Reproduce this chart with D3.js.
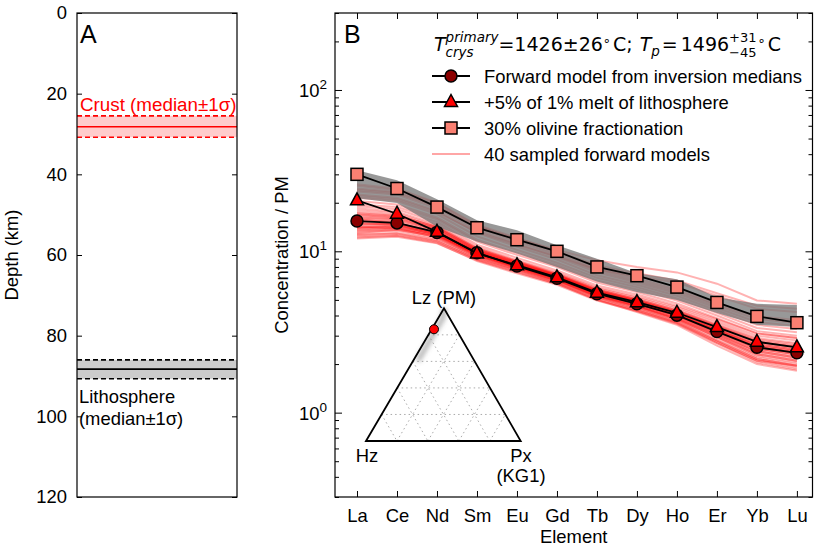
<!DOCTYPE html>
<html>
<head>
<meta charset="utf-8">
<script src="https://cdn.jsdelivr.net/npm/d3@7"></script>
<style>
  body { margin: 0; background: #fff; }
  svg { font-family: "Liberation Sans", Arial, sans-serif; }
</style>
</head>
<body>
<svg id="chart" width="814" height="548"></svg>
<script>
// ---- data ----
const elements = ['La', 'Ce', 'Nd', 'Sm', 'Eu', 'Gd', 'Tb', 'Dy', 'Ho', 'Er', 'Yb', 'Lu'];

const medianModel  = [15.4, 15.0, 13.1, 9.8, 8.1, 6.8, 5.46, 4.73, 4.02, 3.18, 2.54, 2.35];
const lithMeltModel = [20.7, 17.1, 13.2, 9.7, 8.2, 6.9, 5.54, 4.84, 4.16, 3.39, 2.75, 2.54];
const olivineModel = [30.0, 24.5, 18.8, 14.0, 11.8, 10.0, 8.0, 7.06, 6.0, 4.82, 3.95, 3.61];

// grey envelope behind the models
const bandHigh = [31.8, 27.6, 21.0, 15.6, 13.5, 10.9, 9.0, 7.3, 6.7, 5.2, 4.73, 4.65];
const bandLow  = [21.3, 19.9, 14.2, 11.5, 9.7, 8.0, 6.5, 5.6, 5.0, 4.15, 3.5, 3.4];

// 40 sampled forward models
const sampledModels = [
  [12.0, 12.3, 11.2, 8.8, 7.4, 6.3, 5.0, 4.2, 3.5, 2.6, 2.0, 1.82],
  [12.4, 12.6, 11.5, 9.0, 7.6, 6.4, 5.1, 4.3, 3.6, 2.7, 2.1, 1.9],
  [12.8, 13.0, 11.8, 9.1, 7.7, 6.5, 5.2, 4.4, 3.7, 2.8, 2.15, 1.95],
  [13.2, 13.4, 12.0, 9.3, 7.8, 6.6, 5.25, 4.5, 3.75, 2.9, 2.2, 2.0],
  [13.6, 13.7, 12.3, 9.4, 7.9, 6.6, 5.3, 4.55, 3.8, 2.95, 2.25, 2.05],
  [14.0, 14.1, 12.5, 9.5, 8.0, 6.7, 5.35, 4.6, 3.85, 3.0, 2.3, 2.1],
  [14.4, 14.4, 12.7, 9.6, 8.0, 6.75, 5.4, 4.65, 3.9, 3.05, 2.35, 2.15],
  [14.8, 14.7, 12.9, 9.7, 8.1, 6.8, 5.45, 4.7, 3.95, 3.1, 2.4, 2.2],
  [15.2, 15.0, 13.1, 9.8, 8.15, 6.85, 5.5, 4.75, 4.0, 3.15, 2.45, 2.25],
  [15.6, 15.3, 13.3, 9.9, 8.2, 6.9, 5.55, 4.8, 4.05, 3.2, 2.5, 2.3],
  [16.0, 15.6, 13.5, 10.0, 8.3, 7.0, 5.6, 4.85, 4.1, 3.25, 2.55, 2.35],
  [16.5, 16.0, 13.7, 10.1, 8.4, 7.05, 5.65, 4.9, 4.15, 3.3, 2.6, 2.4],
  [17.0, 16.4, 13.9, 10.2, 8.5, 7.1, 5.7, 4.95, 4.2, 3.4, 2.7, 2.5],
  [17.5, 16.8, 14.1, 10.3, 8.55, 7.15, 5.75, 5.0, 4.25, 3.45, 2.75, 2.55],
  [18.0, 17.2, 14.3, 10.4, 8.6, 7.2, 5.8, 5.05, 4.3, 3.5, 2.8, 2.6],
  [13.0, 13.6, 12.4, 9.6, 8.1, 6.8, 5.45, 4.75, 4.0, 3.2, 2.55, 2.35],
  [13.8, 14.2, 12.8, 9.8, 8.2, 6.9, 5.5, 4.8, 4.05, 3.25, 2.6, 2.4],
  [14.6, 14.8, 13.2, 10.0, 8.35, 7.0, 5.6, 4.9, 4.1, 3.3, 2.65, 2.45],
  [12.6, 12.9, 11.6, 8.9, 7.5, 6.3, 5.0, 4.3, 3.6, 2.75, 2.1, 1.95],
  [15.0, 14.6, 12.6, 9.4, 7.9, 6.6, 5.3, 4.55, 3.8, 2.95, 2.3, 2.1],
  [16.2, 15.8, 13.6, 10.1, 8.4, 7.1, 5.7, 4.95, 4.2, 3.4, 2.75, 2.55],
  [17.2, 16.6, 14.2, 10.5, 8.7, 7.3, 5.9, 5.15, 4.4, 3.6, 2.9, 2.7],
  [18.5, 17.6, 14.7, 10.7, 8.8, 7.4, 6.0, 5.25, 4.5, 3.7, 3.0, 2.8],
  [19.0, 18.2, 15.2, 11.0, 9.1, 7.6, 6.15, 5.4, 4.6, 3.8, 3.1, 2.9],
  [13.4, 13.9, 12.6, 9.7, 8.15, 6.85, 5.5, 4.75, 4.0, 3.15, 2.5, 2.3],
  [14.2, 13.9, 12.2, 9.2, 7.7, 6.45, 5.15, 4.4, 3.65, 2.8, 2.15, 1.95],
  [15.8, 15.0, 12.9, 9.5, 7.95, 6.65, 5.3, 4.6, 3.85, 3.05, 2.4, 2.2],
  [16.8, 16.2, 13.9, 10.3, 8.6, 7.2, 5.8, 5.05, 4.3, 3.5, 2.85, 2.65],
  [14.0, 14.5, 13.0, 9.9, 8.3, 7.0, 5.6, 4.85, 4.1, 3.3, 2.65, 2.45],
  [12.2, 12.5, 11.3, 8.7, 7.3, 6.2, 4.95, 4.25, 3.55, 2.7, 2.05, 1.85],
  [20.5, 19.5, 16.2, 11.8, 9.8, 8.2, 6.6, 5.8, 4.95, 4.0, 3.2, 3.0],
  [21.5, 20.5, 17.0, 12.4, 10.2, 8.5, 6.85, 6.0, 5.1, 4.15, 3.35, 3.15],
  [22.5, 21.5, 17.8, 13.0, 10.7, 8.9, 7.1, 6.2, 5.3, 4.3, 3.5, 3.3],
  [23.5, 22.5, 18.5, 13.5, 11.1, 9.2, 7.4, 6.4, 5.5, 4.45, 3.65, 3.45],
  [24.5, 23.3, 19.2, 14.0, 11.5, 9.5, 7.6, 6.6, 5.65, 4.6, 3.8, 3.6],
  [25.5, 24.0, 19.8, 14.4, 11.8, 9.8, 7.8, 6.8, 5.8, 4.7, 3.95, 3.75],
  [19.5, 18.8, 15.8, 11.5, 9.5, 8.0, 6.4, 5.6, 4.75, 3.85, 3.1, 2.9],
  [26.0, 24.5, 20.0, 14.6, 12.1, 10.0, 8.2, 7.3, 6.6, 5.5, 4.6, 4.4],
  [24.0, 23.0, 19.0, 14.2, 12.0, 10.2, 8.8, 8.0, 7.4, 6.3, 4.96, 4.73],
  [22.0, 21.0, 17.5, 13.2, 11.0, 9.3, 7.7, 7.0, 6.4, 5.3, 4.4, 4.2]
];

// panel A: depth (km) of lower sigma, median, upper sigma
const crustDepth = [25.5, 28.2, 30.8];
const lithDepth  = [86.0, 88.3, 90.7];
const depthTicks = [0, 20, 40, 60, 80, 100, 120];

// ternary inset (Hz, Lz, Px fractions)
const ternaryGrid = [0.2, 0.4, 0.6, 0.8];
const ternaryPoint = [0.143, 0.842, 0.015];
const ternaryCloud = [
  [0.01, 0.98, 0.01], [0.03, 0.95, 0.02], [0.05, 0.92, 0.03], [0.08, 0.89, 0.03],
  [0.11, 0.86, 0.03], [0.14, 0.83, 0.03], [0.17, 0.80, 0.03], [0.20, 0.77, 0.03],
  [0.23, 0.74, 0.03], [0.26, 0.71, 0.03], [0.29, 0.68, 0.03], [0.32, 0.65, 0.03],
  [0.35, 0.62, 0.03]
];

const svg = d3.select('#chart');
const FONT = 18.4;
const MATH = '"DejaVu Sans", sans-serif';

// =========== Panel A ===========
const A = { left: 77, right: 237, top: 13, bottom: 497 };
const yA = d3.scaleLinear().domain([0, 120]).range([A.top, A.bottom]);
const gA = svg.append('g');

// crust and lithosphere bands
gA.append('rect')
  .attr('x', A.left).attr('width', A.right - A.left)
  .attr('y', yA(crustDepth[0])).attr('height', yA(crustDepth[2]) - yA(crustDepth[0]))
  .attr('fill', '#ffcccc');
gA.append('rect')
  .attr('x', A.left).attr('width', A.right - A.left)
  .attr('y', yA(lithDepth[0])).attr('height', yA(lithDepth[2]) - yA(lithDepth[0]))
  .attr('fill', '#cccccc');

function hline(g, d, color, dashed) {
  g.append('line')
    .attr('x1', A.left).attr('x2', A.right)
    .attr('y1', yA(d)).attr('y2', yA(d))
    .attr('stroke', color).attr('stroke-width', 1.6)
    .attr('stroke-dasharray', dashed ? '5,3' : null);
}
hline(gA, crustDepth[0], '#ff0000', true);
hline(gA, crustDepth[1], '#ff0000', false);
hline(gA, crustDepth[2], '#ff0000', true);
hline(gA, lithDepth[0], '#000', true);
hline(gA, lithDepth[1], '#000', false);
hline(gA, lithDepth[2], '#000', true);

// axes A
const axAL = gA.append('g').attr('transform', `translate(${A.left},0)`)
  .call(d3.axisLeft(yA).tickValues(depthTicks).tickSize(-5).tickPadding(10));
const axAR = gA.append('g').attr('transform', `translate(${A.right},0)`)
  .call(d3.axisRight(yA).tickValues(depthTicks).tickSize(-5).tickFormat(''));
[axAL, axAR].forEach(a => {
  a.select('.domain').remove();
  a.selectAll('line').attr('stroke', '#000');
});
axAL.selectAll('text').style('font-size', FONT + 'px').attr('fill', '#000');

gA.append('rect')
  .attr('x', A.left).attr('y', A.top)
  .attr('width', A.right - A.left).attr('height', A.bottom - A.top)
  .attr('fill', 'none').attr('stroke', '#000').attr('stroke-width', 1.2);

gA.append('text').attr('x', 80).attr('y', 43).style('font-size', '25px').text('A');
gA.append('text').attr('x', 80).attr('y', yA(crustDepth[0]) - 5)
  .attr('fill', '#ff0000').style('font-size', '18.8px').text('Crust (median±1σ)');
gA.append('text').attr('x', 79).attr('y', 403).style('font-size', FONT + 'px').text('Lithosphere');
gA.append('text').attr('x', 79).attr('y', 425).style('font-size', FONT + 'px').text('(median±1σ)');

gA.append('text')
  .attr('transform', `translate(18,${(A.top + A.bottom) / 2}) rotate(-90)`)
  .attr('text-anchor', 'middle')
  .style('font-size', FONT + 'px').text('Depth (km)');

// =========== Panel B ===========
const B = { left: 335, right: 812.5, top: 13, bottom: 497 };
const x = d3.scaleLinear().domain([-0.55, 11.39]).range([B.left, B.right]);
const y = d3.scaleLog().domain([0.3, 300]).range([B.bottom, B.top]);
const gB = svg.append('g');

const defs = svg.append('defs');
defs.append('clipPath').attr('id', 'clipB').append('rect')
  .attr('x', B.left).attr('y', B.top).attr('width', B.right - B.left).attr('height', B.bottom - B.top);
defs.append('filter').attr('id', 'blur').append('feGaussianBlur').attr('stdDeviation', 2.2);

const plot = gB.append('g').attr('clip-path', 'url(#clipB)');
const line = d3.line().x((d, i) => x(i)).y(d => y(d));

// sampled models
plot.selectAll('.sample').data(sampledModels).enter().append('path')
  .attr('class', 'sample')
  .attr('d', line)
  .attr('fill', 'none')
  .attr('stroke', '#ff0000')
  .attr('stroke-opacity', 0.3)
  .attr('stroke-width', 2);

// grey envelope (semi transparent, over the samples)
const area = d3.area()
  .x((d, i) => x(i))
  .y0((d, i) => y(bandLow[i]))
  .y1(d => y(d));
plot.append('path').datum(bandHigh)
  .attr('d', area).attr('fill', '#767676').attr('opacity', 0.75);

// model lines with markers
function drawSeries(vals, shape, fill) {
  plot.append('path').datum(vals)
    .attr('d', line).attr('fill', 'none')
    .attr('stroke', '#000').attr('stroke-width', 1.8);
  vals.forEach((v, i) => drawMarker(plot, x(i), y(v), shape, fill));
}

function drawMarker(g, cx, cy, shape, fill) {
  let el;
  if (shape === 'circle') {
    el = g.append('circle').attr('cx', cx).attr('cy', cy).attr('r', 6);
  } else if (shape === 'triangle') {
    el = g.append('path').attr('d', `M${cx},${cy - 7.5}L${cx + 6.5},${cy + 4.5}L${cx - 6.5},${cy + 4.5}Z`);
  } else {
    el = g.append('rect').attr('x', cx - 6).attr('y', cy - 6).attr('width', 12).attr('height', 12);
  }
  el.attr('fill', fill).attr('stroke', '#000').attr('stroke-width', 1.5);
}

drawSeries(medianModel, 'circle', '#8b0000');
drawSeries(lithMeltModel, 'triangle', '#ff0000');
drawSeries(olivineModel, 'square', '#fa8072');

// axes B
const majors = [1, 10, 100];
const minors = [];
[0.1, 1, 10, 100].forEach(p => d3.range(2, 10).forEach(k => {
  const v = p * k;
  if (v >= 0.3 && v <= 300) minors.push(v);
}));

function styleAxis(a) {
  a.select('.domain').remove();
  a.selectAll('line').attr('stroke', '#000');
}
styleAxis(gB.append('g').attr('transform', `translate(${B.left},0)`)
  .call(d3.axisRight(y).tickValues(majors).tickSize(7).tickFormat('')));
styleAxis(gB.append('g').attr('transform', `translate(${B.left},0)`)
  .call(d3.axisRight(y).tickValues(minors).tickSize(4).tickFormat('')));
styleAxis(gB.append('g').attr('transform', `translate(${B.right},0)`)
  .call(d3.axisLeft(y).tickValues(majors).tickSize(7).tickFormat('')));
styleAxis(gB.append('g').attr('transform', `translate(${B.right},0)`)
  .call(d3.axisLeft(y).tickValues(minors).tickSize(4).tickFormat('')));

const idx = d3.range(elements.length);
const axBot = gB.append('g').attr('transform', `translate(0,${B.bottom})`)
  .call(d3.axisBottom(x).tickValues(idx).tickSize(-6).tickPadding(12).tickFormat(i => elements[i]));
styleAxis(axBot);
axBot.selectAll('text').style('font-size', FONT + 'px').attr('fill', '#000');
styleAxis(gB.append('g').attr('transform', `translate(0,${B.top})`)
  .call(d3.axisTop(x).tickValues(idx).tickSize(-6).tickFormat('')));

// y tick labels 10^n
majors.forEach(v => {
  const t = gB.append('text').attr('x', B.left - 8).attr('y', y(v) + 7)
    .attr('text-anchor', 'end').style('font-size', FONT + 'px');
  t.append('tspan').text('10');
  t.append('tspan').attr('dy', -8).style('font-size', '13.5px').text(String(Math.round(Math.log10(v))));
});

gB.append('rect')
  .attr('x', B.left).attr('y', B.top)
  .attr('width', B.right - B.left).attr('height', B.bottom - B.top)
  .attr('fill', 'none').attr('stroke', '#000').attr('stroke-width', 1.2);

gB.append('text')
  .attr('transform', `translate(288,${(B.top + B.bottom) / 2}) rotate(-90)`)
  .attr('text-anchor', 'middle').style('font-size', FONT + 'px').text('Concentration / PM');
gB.append('text').attr('x', (B.left + B.right) / 2).attr('y', 543)
  .attr('text-anchor', 'middle').style('font-size', FONT + 'px').text('Element');

gB.append('text').attr('x', 344).attr('y', 43).style('font-size', '25px').text('B');

// ---- title with sub/superscripts (mathtext style) ----
const title = gB.append('g').style('font-family', MATH);
let tx = 434;
const ty = 51;
function piece(txt, size, dy, italic, advance) {
  const t = title.append('text').attr('x', tx).attr('y', ty + dy)
    .style('font-size', size + 'px').style('font-style', italic ? 'italic' : 'normal').text(txt);
  const w = t.node().getComputedTextLength();
  if (advance) tx += w;
  return w;
}
piece('T', 19, 0, true, true);
let w1 = piece('primary', 13.5, -9, true, false);
let w2 = piece('crys', 13.5, 6, true, false);
tx += Math.max(w1, w2);
piece('=1426±26', 19, 0, false, true);
piece('∘', 13, -6, false, true);
tx += 2;
piece('C;', 19, 0, false, true);
tx += 7;
piece('T', 19, 0, true, true);
piece('p', 13.5, 5, true, true);
tx += 2;
piece('=', 19, 0, false, true);
tx += 3;
piece('1496', 19, 0, false, true);
w1 = piece('+31', 13, -9, false, false);
w2 = piece('−45', 13, 6, false, false);
tx += Math.max(w1, w2) + 1;
piece('∘', 13, -6, false, true);
tx += 2;
piece('C', 19, 0, false, true);

// ---- legend ----
const legendRows = [
  { label: 'Forward model from inversion medians', shape: 'circle', fill: '#8b0000' },
  { label: '+5% of 1% melt of lithosphere', shape: 'triangle', fill: '#ff0000' },
  { label: '30% olivine fractionation', shape: 'square', fill: '#fa8072' },
  { label: '40 sampled forward models', shape: null }
];
const legY = [76, 102, 128, 154];
legendRows.forEach((r, i) => {
  const ly = legY[i];
  if (r.shape) {
    gB.append('line').attr('x1', 432).attr('x2', 470).attr('y1', ly).attr('y2', ly)
      .attr('stroke', '#000').attr('stroke-width', 1.8);
    drawMarker(gB, 451, ly, r.shape, r.fill);
  } else {
    gB.append('line').attr('x1', 432).attr('x2', 470).attr('y1', ly).attr('y2', ly)
      .attr('stroke', '#ff0000').attr('stroke-opacity', 0.35).attr('stroke-width', 2);
  }
  gB.append('text').attr('x', 484).attr('y', ly + 6.5).style('font-size', FONT + 'px').text(r.label);
});

// ---- ternary inset ----
const V = { hz: [366, 441], lz: [444, 308.3], px: [520.7, 441] };
function tern(p) {
  return [p[0] * V.hz[0] + p[1] * V.lz[0] + p[2] * V.px[0],
          p[0] * V.hz[1] + p[1] * V.lz[1] + p[2] * V.px[1]];
}
const gT = gB.append('g');
const gridLines = [];
ternaryGrid.forEach(g => {
  gridLines.push([[1 - g, g, 0], [0, g, 1 - g]]);
  gridLines.push([[g, 1 - g, 0], [g, 0, 1 - g]]);
  gridLines.push([[1 - g, 0, g], [0, 1 - g, g]]);
});
gridLines.forEach(s => {
  const a = tern(s[0]), b = tern(s[1]);
  gT.append('line').attr('x1', a[0]).attr('y1', a[1]).attr('x2', b[0]).attr('y2', b[1])
    .attr('stroke', '#aaa').attr('stroke-width', 1).attr('stroke-dasharray', '1.5,3');
});
gT.append('g').attr('filter', 'url(#blur)').selectAll('circle').data(ternaryCloud).enter()
  .append('circle')
  .attr('cx', d => tern(d)[0]).attr('cy', d => tern(d)[1])
  .attr('r', 3.2).attr('fill', '#777').attr('opacity', 0.4);
gT.append('path')
  .attr('d', `M${V.hz[0]},${V.hz[1]}L${V.lz[0]},${V.lz[1]}L${V.px[0]},${V.px[1]}Z`)
  .attr('fill', 'none').attr('stroke', '#000').attr('stroke-width', 1.8);
const tp = tern(ternaryPoint);
gT.append('circle').attr('cx', tp[0]).attr('cy', tp[1]).attr('r', 4.5)
  .attr('fill', '#ff0000').attr('stroke', '#000').attr('stroke-width', 1);

gT.append('text').attr('x', 444).attr('y', 304).attr('text-anchor', 'middle')
  .style('font-size', FONT + 'px').text('Lz (PM)');
gT.append('text').attr('x', 367).attr('y', 462).attr('text-anchor', 'middle')
  .style('font-size', FONT + 'px').text('Hz');
gT.append('text').attr('x', 521).attr('y', 462).attr('text-anchor', 'middle')
  .style('font-size', FONT + 'px').text('Px');
gT.append('text').attr('x', 521).attr('y', 482).attr('text-anchor', 'middle')
  .style('font-size', FONT + 'px').text('(KG1)');
</script>
</body>
</html>
